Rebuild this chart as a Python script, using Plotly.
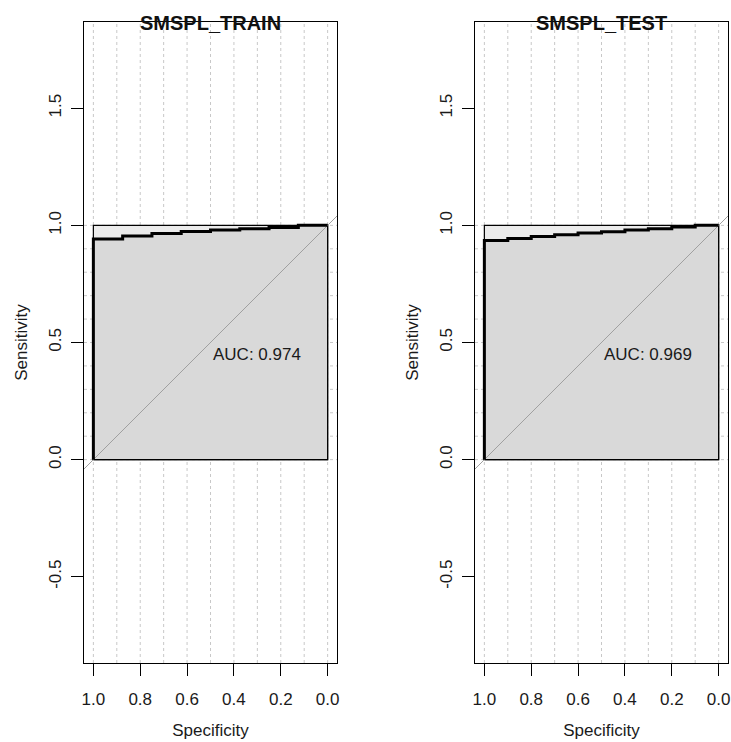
import numpy as np
import plotly.graph_objects as go

# ROC coordinates (specificity, sensitivity) for each model
train_spec = [1.000, 1.000, 0.875, 0.875, 0.750, 0.750, 0.625, 0.625, 0.500,
              0.500, 0.375, 0.375, 0.250, 0.250, 0.125, 0.125, 0.000]
train_sens = [0.000, 0.942, 0.942, 0.955, 0.955, 0.965, 0.965, 0.974, 0.974,
              0.980, 0.980, 0.986, 0.986, 0.991, 0.991, 1.000, 1.000]

test_spec = [1.0, 1.0, 0.9, 0.9, 0.8, 0.8, 0.7, 0.7, 0.6, 0.6, 0.5,
             0.5, 0.4, 0.4, 0.3, 0.3, 0.2, 0.2, 0.1, 0.1, 0.0]
test_sens = [0.000, 0.935, 0.935, 0.944, 0.944, 0.952, 0.952, 0.960, 0.960,
             0.967, 0.967, 0.973, 0.973, 0.980, 0.980, 0.986, 0.986, 0.993,
             0.993, 1.000, 1.000]

panel_titles = ["SMSPL_TRAIN", "SMSPL_TEST"]
x_ticks = [1.0, 0.8, 0.6, 0.4, 0.2, 0.0]
y_ticks = [-0.5, 0.0, 0.5, 1.0, 1.5]

W, H = 731, 742
M_L, M_R, M_T, M_B = 84, 3, 22, 79
plot_w = W - M_L - M_R
plot_h = H - M_T - M_B
panel_w = 253
x_range = [1.04, -0.04]
px_per_unit = panel_w / (x_range[0] - x_range[1])
y_span = plot_h / px_per_unit
y_range = [0.5 - y_span / 2, 0.5 + y_span / 2]

FONT = "Liberation Sans, Arial, sans-serif"


def auc(spec, sens):
    s = np.array(spec)[::-1]
    t = np.array(sens)[::-1]
    return float(np.sum((s[1:] - s[:-1]) * (t[1:] + t[:-1]) / 2))


fig = go.Figure()
domains = [[0, panel_w / plot_w], [1 - panel_w / plot_w, 1]]

for i, (spec, sens, title) in enumerate(
        [(train_spec, train_sens, panel_titles[0]),
         (test_spec, test_sens, panel_titles[1])]):
    xa = "x" if i == 0 else "x2"
    ya = "y" if i == 0 else "y2"

    # dotted grid: vertical lines over full height, horizontal lines across 0..1
    gx, gy = [], []
    for v in np.round(np.arange(0, 1.0001, 0.1), 2):
        gx += [v, v, None]
        gy += [y_range[0], y_range[1], None]
        gx += [x_range[0], x_range[1], None]
        gy += [v, v, None]
    fig.add_trace(go.Scatter(x=gx, y=gy, mode="lines", xaxis=xa, yaxis=ya,
                             line=dict(color="#C8C8C8", width=1, dash="dot"),
                             hoverinfo="skip", showlegend=False))

    # maximal AUC region
    x0, x1 = max(spec), min(spec)
    y0, y1 = min(sens), max(sens)
    fig.add_trace(go.Scatter(x=[x0, x0, x1, x1, x0], y=[y0, y1, y1, y0, y0],
                             mode="lines", fill="toself", fillcolor="#EBEBEB",
                             line=dict(color="black", width=1.2),
                             xaxis=xa, yaxis=ya, hoverinfo="skip",
                             showlegend=False))

    # area under the ROC curve
    fig.add_trace(go.Scatter(x=list(spec) + [x1, x0], y=list(sens) + [y0, y0],
                             mode="lines", fill="toself", fillcolor="#D9D9D9",
                             line=dict(color="black", width=1.2),
                             xaxis=xa, yaxis=ya, hoverinfo="skip",
                             showlegend=False))

    # chance diagonal
    fig.add_trace(go.Scatter(x=x_range, y=[1 - x_range[0], 1 - x_range[1]],
                             mode="lines", line=dict(color="#A0A0A0", width=1),
                             xaxis=xa, yaxis=ya, hoverinfo="skip",
                             showlegend=False))

    # ROC curve
    fig.add_trace(go.Scatter(x=spec, y=sens, mode="lines",
                             line=dict(color="black", width=3),
                             xaxis=xa, yaxis=ya, hoverinfo="skip",
                             showlegend=False))

    fig.add_annotation(x=0.5, y=0.5, xref=xa, yref=ya, xanchor="left",
                       yanchor="top", showarrow=False,
                       text=f"AUC: {auc(spec, sens):.3f}",
                       font=dict(family=FONT, size=17, color="#1a1a1a"))

    fig.add_annotation(x=sum(domains[i]) / 2, y=1, xref="paper", yref="paper",
                       xanchor="center", yanchor="middle", showarrow=False,
                       text=f"<b>{title}</b>", yshift=-1,
                       font=dict(family=FONT, size=20, color="#111"))

axis_common = dict(showline=True, mirror=True, linecolor="black", linewidth=1,
                   ticks="outside", ticklen=12, tickcolor="black",
                   showgrid=False, zeroline=False,
                   tickfont=dict(family=FONT, size=17, color="#1a1a1a"))

for i in range(2):
    sfx = "" if i == 0 else "2"
    fig.update_layout(**{
        f"xaxis{sfx}": dict(axis_common, domain=domains[i], range=x_range,
                             tickvals=x_ticks,
                             ticktext=[f"{v:.1f}" for v in x_ticks],
                             anchor="y" + sfx, ticklabelstandoff=9,
                             title=dict(text="Specificity", standoff=15,
                                        font=dict(family=FONT, size=17,
                                                  color="#1a1a1a"))),
        f"yaxis{sfx}": dict(axis_common, domain=[0, 1], range=y_range,
                             tickvals=y_ticks,
                             ticktext=[f"{v:.1f}" for v in y_ticks],
                             tickangle=-90, anchor="x" + sfx,
                             ticklabelstandoff=3,
                             title=dict(text="Sensitivity", standoff=14,
                                        font=dict(family=FONT, size=17,
                                                  color="#1a1a1a"))),
    })

fig.update_layout(width=W, height=H, plot_bgcolor="white",
                  paper_bgcolor="white",
                  margin=dict(l=M_L, r=M_R, t=M_T, b=M_B, autoexpand=False))

fig.write_html("out.html")
